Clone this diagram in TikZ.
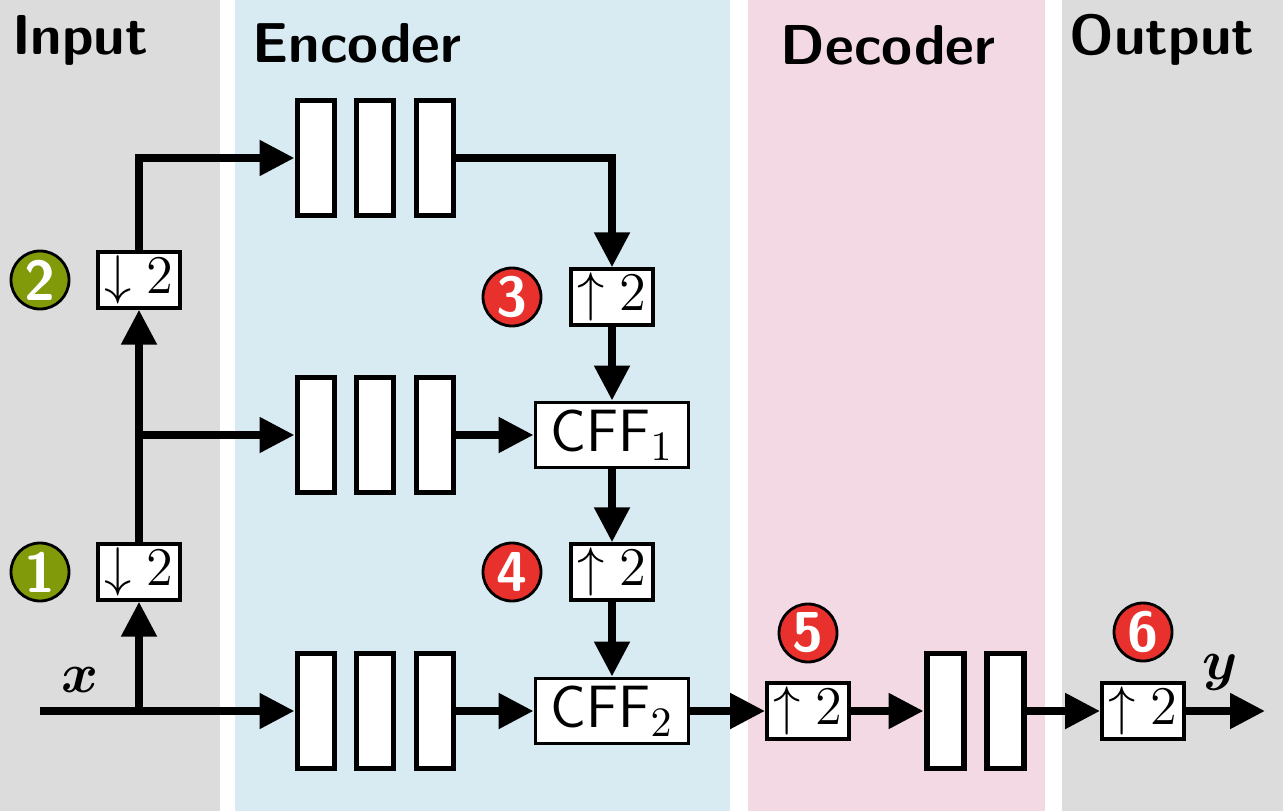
\RequirePackage{fix-cm}
\documentclass[tikz,border=0pt]{standalone}
\usepackage{amsmath}
\usepackage{fontspec}
\usetikzlibrary{arrows.meta}

\definecolor{ingray}{RGB}{220,220,220}
\definecolor{encblue}{RGB}{216,234,242}
\definecolor{decpink}{RGB}{242,217,228}
\definecolor{numred}{RGB}{232,48,44}
\definecolor{numgreen}{RGB}{128,154,10}

\tikzset{
  lay/.style={draw, line width=1.7pt, fill=white, minimum width=0.37cm,
    minimum height=1.15cm, inner sep=0pt},
  sbox/.style={draw, line width=1.1pt, fill=white, minimum width=0.82cm,
    minimum height=0.51cm, inner sep=1pt, font=\fontsize{15.5}{18}\selectfont},
  cbox/.style={sbox, minimum width=1.53cm, minimum height=0.65cm,
    font=\fontsize{17}{20}\selectfont},
  num/.style={circle, draw, line width=0.8pt, minimum size=0.58cm, inner sep=0pt,
    text=white, font=\fontsize{16}{19}\selectfont\sffamily\bfseries},
  gnum/.style={num, fill=numgreen},
  rnum/.style={num, fill=numred},
  title/.style={font=\fontsize{16}{19}\selectfont\sffamily\bfseries},
  arr/.style={line width=2.3pt, -{Triangle[length=0.35cm,width=0.34cm]}},
}

\begin{document}
\begin{tikzpicture}
    \useasboundingbox (0,0) rectangle (12.83,8.11);
    % panels
    \fill [ingray]  (0,0)    rectangle (2.20,8.11);
    \fill [encblue] (2.35,0) rectangle (7.30,8.11);
    \fill [decpink] (7.48,0) rectangle (10.45,8.11);
    \fill [ingray]  (10.62,0) rectangle (12.83,8.11);
    \path (0.80,7.71)  node [title] (tin)  {Input};
    \path (3.57,7.68)  node [title] (tenc) {Encoder};
    \path (8.88,7.66)  node [title] (tdec) {Decoder};
    \path (11.62,7.71) node [title] (tout) {Output};

    % input side
    \coordinate (in) at (0.40,1.00);
    \path (0.80,1.31) node [font=\fontsize{16}{19}\selectfont] (xl) {$\boldsymbol{x}$};
    \path (1.39,2.39) node [sbox] (down1) {$\downarrow 2$};
    \path (1.39,5.31) node [sbox] (down2) {$\downarrow 2$};
    \path (0.40,2.39) node [gnum] (n1) {1};
    \path (0.40,5.31) node [gnum] (n2) {2};

    % encoder layers
    \path (3.16,6.53) node [lay] (r1a) {};
    \path (3.75,6.53) node [lay] (r1b) {};
    \path (4.35,6.53) node [lay] (r1c) {};
    \path (3.16,3.76) node [lay] (r2a) {};
    \path (3.75,3.76) node [lay] (r2b) {};
    \path (4.35,3.76) node [lay] (r2c) {};
    \path (3.16,1.00) node [lay] (r3a) {};
    \path (3.75,1.00) node [lay] (r3b) {};
    \path (4.35,1.00) node [lay] (r3c) {};

    \path (6.12,5.14) node [sbox] (up3)  {$\uparrow 2$};
    \path (6.12,3.76) node [cbox] (cff1) {\textsf{CFF}$_1$};
    \path (6.12,2.39) node [sbox] (up4)  {$\uparrow 2$};
    \path (6.12,1.00) node [cbox] (cff2) {\textsf{CFF}$_2$};
    \path (5.12,5.14) node [rnum] (n3) {3};
    \path (5.12,2.39) node [rnum] (n4) {4};

    % decoder and output
    \path (8.08,1.00)  node [sbox] (up5) {$\uparrow 2$};
    \path (8.08,1.78)  node [rnum] (n5) {5};
    \path (9.45,1.00)  node [lay] (d1) {};
    \path (10.05,1.00) node [lay] (d2) {};
    \path (11.43,1.00) node [sbox] (up6) {$\uparrow 2$};
    \path (11.43,1.79) node [rnum] (n6) {6};
    \path (12.20,1.39) node [font=\fontsize{16}{19}\selectfont] (yl) {$\boldsymbol{y}$};
    \coordinate (out) at (12.65,1.00);

    \draw [arr] (in) -- (r3a.west);
    \draw [arr] (in -| down1) -- (down1.south);
    \draw [arr] (down1.north) -- (down2.south);
    \draw [arr] (down1 |- r2a) -- (r2a.west);
    \draw [arr] (down2.north) |- (r1a.west);

    \draw [arr] (r1c.east) -| (up3.north);
    \draw [arr] (up3.south) -- (cff1.north);
    \draw [arr] (r2c.east) -- (cff1.west);
    \draw [arr] (cff1.south) -- (up4.north);
    \draw [arr] (up4.south) -- (cff2.north);
    \draw [arr] (r3c.east) -- (cff2.west);

    \draw [arr] (cff2.east) -- (up5.west);
    \draw [arr] (up5.east) -- (d1.west);
    \draw [arr] (d2.east) -- (up6.west);
    \draw [arr] (up6.east) -- (out);
\end{tikzpicture}
\end{document}
